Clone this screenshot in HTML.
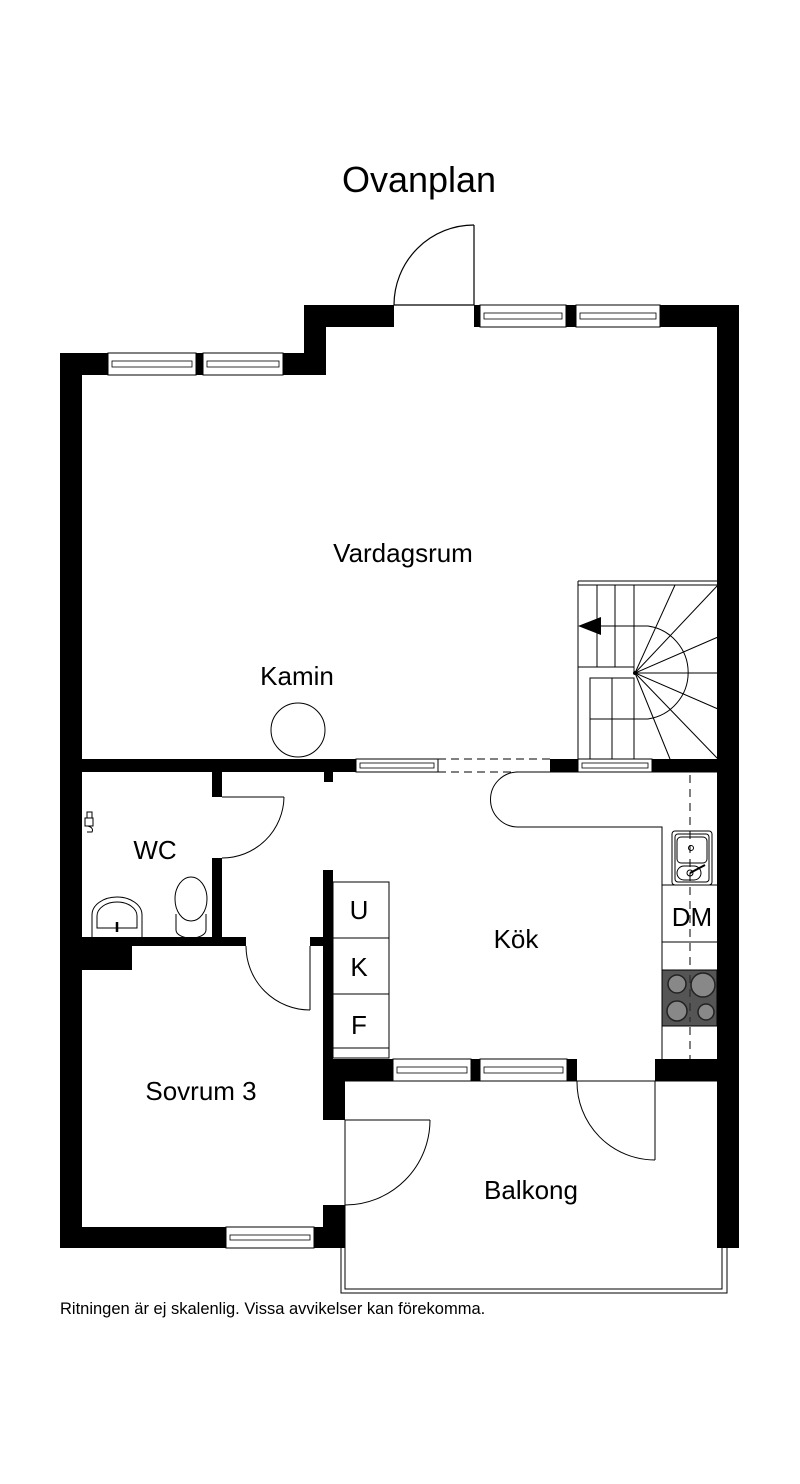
<!DOCTYPE html>
<html><head><meta charset="utf-8"><style>
html,body{margin:0;padding:0;background:#fff}
svg{display:block}
text{font-family:"Liberation Sans",Arial,sans-serif;fill:#000}
</style></head><body>
<svg width="800" height="1484" viewBox="0 0 800 1484" xmlns="http://www.w3.org/2000/svg">
<rect width="800" height="1484" fill="#fff"/>
<text x="419" y="192" font-size="36" text-anchor="middle">Ovanplan</text>

<g fill="none" stroke="#000" stroke-width="1.2">
<line x1="474" y1="225" x2="474" y2="305"/>
<path d="M474 225 A80 80 0 0 0 394 305"/>
<line x1="394" y1="305" x2="474" y2="305"/>
</g>

<g fill="#000">
<rect x="304" y="305" width="90" height="22"/>
<rect x="474" y="305" width="6" height="22"/>
<rect x="566" y="305" width="10" height="22"/>
<rect x="660" y="305" width="79" height="22"/>
<rect x="304" y="305" width="22" height="70"/>
<rect x="60" y="353" width="48" height="22"/>
<rect x="196" y="353" width="7" height="22"/>
<rect x="283" y="353" width="43" height="22"/>
<rect x="60" y="353" width="22" height="895"/>
<rect x="717" y="305" width="22" height="943"/>
<rect x="60" y="759" width="296" height="13"/>
<rect x="550" y="759" width="28" height="13"/>
<rect x="652" y="759" width="65" height="13"/>
<rect x="324" y="772" width="9" height="10"/>
<rect x="212" y="772" width="10" height="25"/>
<rect x="212" y="858" width="10" height="88"/>
<rect x="82" y="937" width="164" height="9"/>
<rect x="82" y="946" width="50" height="24"/>
<rect x="310" y="937" width="14" height="9"/>
<rect x="323" y="870" width="10" height="250"/>
<rect x="323" y="1059" width="70" height="22"/>
<rect x="471" y="1059" width="9" height="22"/>
<rect x="567" y="1059" width="10" height="22"/>
<rect x="655" y="1059" width="62" height="22"/>
<rect x="323" y="1081" width="22" height="39"/>
<rect x="323" y="1205" width="22" height="43"/>
<rect x="60" y="1227" width="166" height="21"/>
<rect x="314" y="1227" width="31" height="21"/>
</g>

<g fill="#fff" stroke="#000" stroke-width="1">
<rect x="480" y="305" width="86" height="22"/><rect x="576" y="305" width="84" height="22"/>
<rect x="108" y="353" width="88" height="22"/><rect x="203" y="353" width="80" height="22"/>
<rect x="356" y="759" width="82" height="13"/><rect x="578" y="759" width="74" height="13"/>
<rect x="393" y="1059" width="78" height="22"/><rect x="480" y="1059" width="87" height="22"/>
<rect x="226" y="1227" width="88" height="21"/>
</g>
<g fill="none" stroke="#000" stroke-width="0.8">
<rect x="484" y="313" width="78" height="6"/><rect x="580" y="313" width="76" height="6"/>
<rect x="112" y="361" width="80" height="6"/><rect x="207" y="361" width="72" height="6"/>
<rect x="360" y="763" width="74" height="5"/><rect x="582" y="763" width="66" height="5"/>
<rect x="397" y="1067" width="70" height="6"/><rect x="484" y="1067" width="79" height="6"/>
<rect x="230" y="1235" width="80" height="5"/>
</g>

<g fill="none" stroke="#000" stroke-width="1">
<line x1="438" y1="759" x2="550" y2="759" stroke-dasharray="8,5"/>
<line x1="438" y1="772" x2="550" y2="772" stroke-dasharray="8,5"/>
<line x1="578" y1="581" x2="718" y2="581"/>
<line x1="578" y1="585" x2="718" y2="585"/>
<line x1="578" y1="581" x2="578" y2="759"/>
<line x1="597" y1="585" x2="597" y2="667"/>
<line x1="615" y1="585" x2="615" y2="667"/>
<line x1="634" y1="585" x2="634" y2="673"/>
<line x1="578" y1="667" x2="634" y2="667"/>
<path d="M634 759 V678 H590 V759"/>
<line x1="612" y1="678" x2="612" y2="759"/>
<line x1="590" y1="719" x2="634" y2="719"/>
<path d="M601 626 H648 A47 47 0 0 1 648 719 H634"/>
<line x1="635" y1="673" x2="675" y2="585"/>
<line x1="635" y1="673" x2="718" y2="585"/>
<line x1="635" y1="673" x2="718" y2="637"/>
<line x1="635" y1="673" x2="718" y2="673"/>
<line x1="635" y1="673" x2="718" y2="709"/>
<line x1="635" y1="673" x2="718" y2="759"/>
<line x1="635" y1="673" x2="670" y2="759"/>
<circle cx="298" cy="730" r="27"/>
<line x1="222" y1="797" x2="284" y2="797"/>
<path d="M284 797 A62 62 0 0 1 222 858"/>
<line x1="310" y1="946" x2="310" y2="1010"/>
<path d="M246 946 A64 64 0 0 0 310 1010"/>
<rect x="333" y="882" width="56" height="176"/>
<line x1="333" y1="938" x2="389" y2="938"/>
<line x1="333" y1="994" x2="389" y2="994"/>
<line x1="333" y1="1048" x2="389" y2="1048"/>
<path d="M717 772 H518 A27 27 0 0 0 518 827 H662 V1059"/>
<line x1="662" y1="885" x2="717" y2="885"/>
<line x1="662" y1="942" x2="717" y2="942"/>
<line x1="662" y1="970" x2="717" y2="970"/>
<line x1="690" y1="775" x2="690" y2="1059" stroke-dasharray="8,6"/>
<rect x="672" y="831" width="40" height="54" rx="3"/>
<rect x="675" y="834" width="34" height="48" rx="3"/>
<rect x="677" y="837" width="30" height="26" rx="4"/>
<rect x="677" y="866" width="24" height="14" rx="7"/>
<circle cx="691" cy="848" r="2.5"/>
<circle cx="690" cy="873" r="3"/>
<line x1="690" y1="873" x2="705" y2="865" stroke-width="2"/>
<line x1="655" y1="1081" x2="655" y2="1160"/>
<path d="M577 1081 A78 78 0 0 0 655 1160"/>
<line x1="345" y1="1120" x2="430" y2="1120"/>
<path d="M430 1120 A85 85 0 0 1 345 1205"/>
<line x1="345" y1="1081" x2="717" y2="1081"/>
<path d="M341 1248 V1293 H727 V1248"/>
<path d="M345 1248 V1289 H722 V1248"/>
<line x1="345" y1="1120" x2="345" y2="1248"/>
<path d="M92 937 V915 A25 18 0 0 1 142 915 V937"/>
<path d="M97 928 V916 A20 14 0 0 1 137 916 V928 Z"/>
<line x1="117" y1="922" x2="117" y2="932" stroke-width="2.5"/>
<ellipse cx="191" cy="899" rx="16" ry="22"/>
<path d="M176 914 V930 A15 8 0 0 0 206 930 V914"/>
<path d="M87 812 h5 v6 h-5 z M85 818 h8 v8 h-8 z M88 826 q6 2 4 6 h-5"/>
</g>
<polygon points="578,626 601,617 601,635" fill="#000"/>
<circle cx="635" cy="673" r="2" fill="#000"/>
<rect x="662" y="970" width="55" height="56" fill="#555" stroke="#000"/>
<g stroke="#222" stroke-width="1.5" fill="#888">
<circle cx="677" cy="984" r="9"/><circle cx="703" cy="985" r="12"/>
<circle cx="677" cy="1011" r="10"/><circle cx="706" cy="1012" r="8"/>
</g>
<line x1="690" y1="975" x2="690" y2="1022" stroke="#222" stroke-dasharray="8,6"/>

<text x="403" y="562" font-size="26" text-anchor="middle">Vardagsrum</text>
<text x="297" y="685" font-size="26" text-anchor="middle">Kamin</text>
<text x="155" y="859" font-size="26" text-anchor="middle">WC</text>
<text x="516" y="948" font-size="26" text-anchor="middle">Kök</text>
<text x="359" y="919" font-size="26" text-anchor="middle">U</text>
<text x="359" y="976" font-size="26" text-anchor="middle">K</text>
<text x="359" y="1034" font-size="26" text-anchor="middle">F</text>
<text x="692" y="926" font-size="26" text-anchor="middle">DM</text>
<text x="201" y="1100" font-size="26" text-anchor="middle">Sovrum 3</text>
<text x="531" y="1199" font-size="26" text-anchor="middle">Balkong</text>
<text x="60" y="1314" font-size="16.5">Ritningen är ej skalenlig. Vissa avvikelser kan förekomma.</text>
</svg>
</body></html>
